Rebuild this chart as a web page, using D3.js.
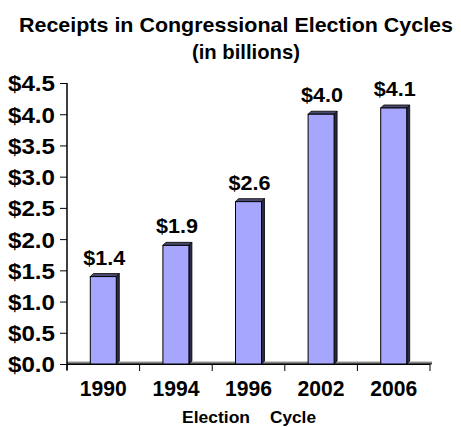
<!DOCTYPE html>
<html>
<head>
<meta charset="utf-8">
<script src="https://cdn.jsdelivr.net/npm/d3@7"></script>
<style>
  html, body { margin: 0; padding: 0; background: #fff; }
  svg { display: block; }
  text { font-family: "Liberation Sans", Arial, sans-serif; font-weight: bold; fill: #000; }
</style>
</head>
<body>
<script>
// Congressional election cycle receipts, billions of dollars
const cycles = ["1990", "1994", "1996", "2002", "2006"];
const receipts = [1.4, 1.9, 2.6, 4.0, 4.1];
const yTicks = [0, 0.5, 1.0, 1.5, 2.0, 2.5, 3.0, 3.5, 4.0, 4.5];
const titleLines = ["Receipts in Congressional Election Cycles", "(in billions)"];
const axisTitleWords = ["Election", "Cycle"];

const W = 461, H = 427;
const svg = d3.select("body").append("svg").attr("width", W).attr("height", H);

const plotLeft = 67, plotRight = 430, yZero = 364, yTop = 83;
const depth = 3;

const x = d3.scaleBand().domain(cycles).range([plotLeft, plotRight]).padding(0);
const y = d3.scaleLinear().domain([0, 4.5]).range([yZero, yTop]);
const barW = 26;
const money = d => "$" + d3.format(".1f")(d);

// Title
svg.append("text").attr("x", 236).attr("y", 32).attr("text-anchor", "middle")
  .attr("font-size", 21).attr("textLength", 434).attr("lengthAdjust", "spacingAndGlyphs")
  .text(titleLines[0]);
svg.append("text").attr("x", 246).attr("y", 59).attr("text-anchor", "middle")
  .attr("font-size", 21).attr("textLength", 108).attr("lengthAdjust", "spacingAndGlyphs")
  .text(titleLines[1]);

// Floor of the plot
svg.append("line").attr("x1", plotLeft).attr("x2", plotRight + 2)
  .attr("y1", yZero - 2).attr("y2", yZero - 2).attr("stroke", "#9a9a9a").attr("stroke-width", 1);
svg.append("line").attr("x1", plotLeft).attr("x2", plotRight + 2)
  .attr("y1", yZero - 0.5).attr("y2", yZero - 0.5).attr("stroke", "#444").attr("stroke-width", 2);

// Bars with a shallow 3D side and top
const bars = svg.append("g");
cycles.forEach((c, i) => {
  const v = receipts[i];
  const x0 = x(c) + (x.bandwidth() - barW) / 2;
  const x1 = x0 + barW;
  const yt = y(v);
  // right side face
  bars.append("path")
    .attr("d", `M${x1},${yZero} L${x1},${yt} L${x1 + depth},${yt - depth} L${x1 + depth},${yZero - depth} Z`)
    .attr("fill", "#2a2a48").attr("stroke", "#000").attr("stroke-width", 0.8);
  // top face
  bars.append("path")
    .attr("d", `M${x0},${yt} L${x0 + depth},${yt - depth} L${x1 + depth},${yt - depth} L${x1},${yt} Z`)
    .attr("fill", "#4a4a6e").attr("stroke", "#000").attr("stroke-width", 0.8);
  // front face
  bars.append("rect")
    .attr("x", x0).attr("y", yt).attr("width", barW).attr("height", yZero - yt)
    .attr("fill", "#a6a6ff").attr("stroke", "#000").attr("stroke-width", 1);
  // value label
  svg.append("text").attr("x", x0 + barW / 2 + 1).attr("y", yt - 12)
    .attr("text-anchor", "middle").attr("font-size", 21)
    .attr("textLength", 42).attr("lengthAdjust", "spacingAndGlyphs")
    .text(money(v));
});

// Y axis
const yAxis = svg.append("g").attr("transform", `translate(${plotLeft},0)`)
  .call(d3.axisLeft(y).tickValues(yTicks).tickSize(7).tickFormat(money));
yAxis.select(".domain").attr("stroke", "#000").attr("stroke-width", 1.5)
  .attr("d", `M0,${yTop}V${yZero + 6}`);
yAxis.selectAll(".tick line").attr("stroke", "#000").attr("stroke-width", 1);
yAxis.selectAll(".tick text")
  .attr("x", -12).attr("dy", "0.36em")
  .attr("font-family", "Liberation Sans, Arial, sans-serif").attr("font-weight", "bold")
  .attr("font-size", 22).attr("fill", "#000")
  .attr("textLength", 47).attr("lengthAdjust", "spacingAndGlyphs");

// X axis: ticks sit on category boundaries
const bounds = cycles.map(c => x(c)).concat([plotRight]);
const xAxis = svg.append("g");
xAxis.append("line").attr("x1", plotLeft).attr("x2", plotRight)
  .attr("y1", yZero + 0.5).attr("y2", yZero + 0.5).attr("stroke", "#000").attr("stroke-width", 1);
xAxis.selectAll("line.tk").data(bounds).join("line").attr("class", "tk")
  .attr("x1", d => d).attr("x2", d => d)
  .attr("y1", yZero).attr("y2", yZero + 7).attr("stroke", "#000").attr("stroke-width", 1);
xAxis.selectAll("text").data(cycles).join("text")
  .attr("x", d => x(d) + x.bandwidth() / 2).attr("y", 396)
  .attr("text-anchor", "middle").attr("font-size", 22)
  .attr("textLength", 47).attr("lengthAdjust", "spacingAndGlyphs")
  .text(d => d);

// Axis title
svg.append("text").attr("x", 182).attr("y", 423)
  .attr("font-family", "DejaVu Sans, Verdana, sans-serif").attr("font-size", 16)
  .attr("textLength", 68).attr("lengthAdjust", "spacingAndGlyphs")
  .text(axisTitleWords[0]);
svg.append("text").attr("x", 270).attr("y", 423)
  .attr("font-family", "DejaVu Sans, Verdana, sans-serif").attr("font-size", 16)
  .attr("textLength", 46).attr("lengthAdjust", "spacingAndGlyphs")
  .text(axisTitleWords[1]);
</script>
</body>
</html>
